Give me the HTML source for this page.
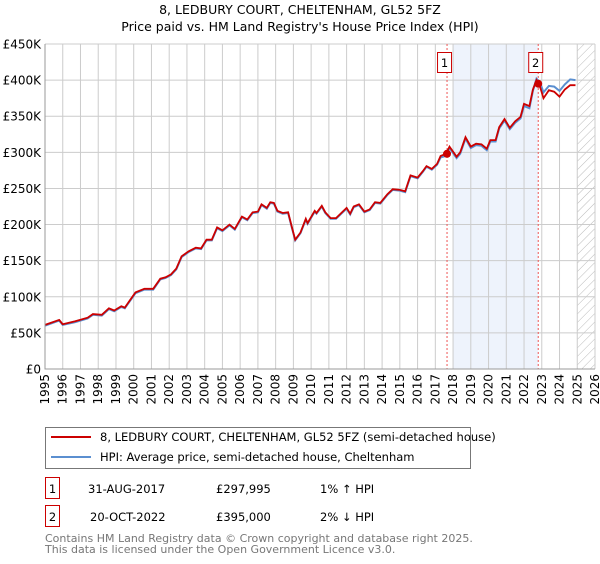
<!DOCTYPE html>
<html><head><meta charset="utf-8"><style>
body{margin:0;background:#fff;font-family:"DejaVu Sans","Liberation Sans",sans-serif;}
svg text{font-family:"DejaVu Sans","Liberation Sans",sans-serif;}
</style></head><body>
<svg id="chart" width="600" height="560" xmlns="http://www.w3.org/2000/svg">
<defs><pattern id="hatch" width="6" height="6" patternUnits="userSpaceOnUse" patternTransform="rotate(45)"><line x1="0" y1="0" x2="0" y2="6" stroke="#bbb" stroke-width="1"/></pattern></defs>
<text x="300" y="14" text-anchor="middle" font-size="12.5">8, LEDBURY COURT, CHELTENHAM, GL52 5FZ</text>
<text x="300" y="31" text-anchor="middle" font-size="12.5">Price paid vs. HM Land Registry's House Price Index (HPI)</text>
<g id="grid"></g><g id="marks"></g><g id="axes"></g>
<g>
<rect x="45.5" y="427.5" width="425" height="41" fill="#fff" stroke="#777"/>
<line x1="51" y1="437" x2="91" y2="437" stroke="#cc0000" stroke-width="2"/>
<text x="100" y="441" font-size="11.5">8, LEDBURY COURT, CHELTENHAM, GL52 5FZ (semi-detached house)</text>
<line x1="51" y1="457" x2="91" y2="457" stroke="#5b8fd0" stroke-width="2"/>
<text x="100" y="461" font-size="11.5">HPI: Average price, semi-detached house, Cheltenham</text>
</g>
<g font-size="11.5">
<rect x="45.5" y="477.5" width="14" height="21" fill="#fff" stroke="#cc0000"/><text x="52.5" y="493" text-anchor="middle">1</text>
<text x="88" y="493">31-AUG-2017</text><text x="216" y="493">£297,995</text><text x="320" y="493">1% ↑ HPI</text>
<rect x="45.5" y="505.5" width="14" height="21" fill="#fff" stroke="#cc0000"/><text x="52.5" y="521" text-anchor="middle">2</text>
<text x="90" y="521">20-OCT-2022</text><text x="216" y="521">£395,000</text><text x="320" y="521">2% ↓ HPI</text>
</g>
<text x="45" y="542" font-size="11" fill="#777">Contains HM Land Registry data © Crown copyright and database right 2025.</text>
<text x="45" y="553" font-size="11" fill="#777">This data is licensed under the Open Government Licence v3.0.</text>
</svg>
<script>
const years=[1995.0,1995.8,1996.0,1996.7,1997.4,1997.7,1998.2,1998.6,1998.9,1999.3,1999.5,2000.1,2000.6,2001.1,2001.5,2001.8,2002.1,2002.4,2002.7,2003.1,2003.5,2003.8,2004.1,2004.4,2004.7,2005.0,2005.4,2005.7,2006.1,2006.4,2006.7,2007.0,2007.2,2007.5,2007.7,2007.9,2008.1,2008.4,2008.7,2008.9,2009.1,2009.4,2009.7,2009.8,2010.2,2010.3,2010.6,2010.8,2011.1,2011.4,2011.7,2012.0,2012.2,2012.4,2012.7,2013.0,2013.3,2013.6,2013.9,2014.3,2014.6,2015.0,2015.3,2015.6,2016.0,2016.3,2016.5,2016.8,2017.1,2017.3,2017.6,2017.8,2018.2,2018.4,2018.7,2019.0,2019.3,2019.6,2019.9,2020.1,2020.4,2020.6,2020.9,2021.2,2021.5,2021.8,2022.0,2022.3,2022.5,2022.7,2022.9,2023.1,2023.4,2023.7,2024.0,2024.3,2024.6,2024.9];
const pricePaid=[61,68,62,66,71,76,75,84,81,87,85,106,111,111,125,127,131,139,156,163,168,167,179,179,196,192,200,194,211,207,217,218,228,223,231,230,219,216,217,198,179,189,208,202,219,216,226,217,209,209,216,223,215,225,228,218,221,231,230,242,249,248,246,268,265,274,281,277,284,295,298,308,294,300,321,308,312,311,305,317,317,335,346,334,343,349,367,364,387,400,391,375,386,384,377,387,393,393];
const hpi=[60,67,61,65,70,75,74,83,80,86,84,105,110,110,124,126,130,138,155,162,167,166,178,178,195,191,199,193,210,206,216,217,227,222,230,229,218,215,216,197,178,188,207,201,218,215,225,216,208,208,215,222,214,224,227,217,220,230,229,241,248,247,245,267,264,273,280,276,283,293,295,306,292,298,319,306,310,309,303,315,315,333,344,332,341,347,364,361,385,402,397,383,392,391,385,394,401,400];
const sales=[{t:2017.66,v:297.995,label:"1"},{t:2022.8,v:395,label:"2"}];
const yTicks=[0,50,100,150,200,250,300,350,400,450];
const xTicks=[1995,1996,1997,1998,1999,2000,2001,2002,2003,2004,2005,2006,2007,2008,2009,2010,2011,2012,2013,2014,2015,2016,2017,2018,2019,2020,2021,2022,2023,2024,2025,2026];
const X0=45,X1=595,Y0=369,Y1=44;
const xs=t=>X0+(t-1995)/(2026-1995)*(X1-X0);
const ys=v=>Y0-v/450*(Y0-Y1);
const NS="http://www.w3.org/2000/svg";
function mk(tag,attrs,parent){const e=document.createElementNS(NS,tag);for(const k in attrs)e.setAttribute(k,attrs[k]);parent.appendChild(e);return e;}
const grid=document.getElementById('grid'),marks=document.getElementById('marks'),axes=document.getElementById('axes');
let r=mk('rect',{x:xs(2017.97),y:Y1,width:xs(2022.8)-xs(2017.97),height:Y0-Y1,fill:'#eef3fc'},grid);


let h=mk('rect',{x:xs(2025.0),y:Y1,width:X1-xs(2025.0),height:Y0-Y1,fill:'url(#hatch)'},grid);


yTicks.forEach(v=>{
 const l=mk('line',{x1:X0,x2:X1,y1:ys(v),y2:ys(v),stroke:'#ccc'},grid);
 
 
 const t=mk('text',{x:X0-4,y:ys(v)+4.5,'text-anchor':'end','font-size':'12'},axes);
 
 
 t.textContent=v===0?'£0':'£'+v+'K';
});
xTicks.forEach(y=>{
 const l=mk('line',{x1:xs(y),x2:xs(y),y1:Y1,y2:Y0,stroke:'#ccc'},grid);
 
 
 const t=mk('text',{x:0,y:0,'text-anchor':'end','font-size':'12',transform:`translate(${xs(y)+4},${Y0+5}) rotate(-90)`},axes);
 
 
 t.textContent=y;
});
sales.forEach(s=>{
 const l=mk('line',{x1:xs(s.t),x2:xs(s.t),y1:Y1,y2:Y0,stroke:'#e55',"stroke-dasharray":'2,2'},grid);
 
 
});
function path(arr){return arr.map((v,i)=>(i?'L':'M')+xs(years[i]).toFixed(1)+','+ys(v).toFixed(1)).join('');}
const hp=mk('path',{d:path(hpi),fill:'none',stroke:'#5b8fd0','stroke-width':2},marks);


const pp=mk('path',{d:path(pricePaid),fill:'none',stroke:'#cc0000','stroke-width':1.8},marks);


sales.forEach(s=>{
 const c=mk('circle',{cx:xs(s.t),cy:ys(s.v),r:4,fill:'#cc0000'},marks);
 
 
 const b=mk('rect',{x:xs(s.t)-9.5,y:52.5,width:14,height:20,fill:'#fff',stroke:'#cc0000'},marks);
 
 
 const t=mk('text',{x:xs(s.t)-2.5,y:67,'text-anchor':'middle','font-size':'11.5'},marks);
 
 
 t.textContent=s.label;
});
const ax=mk('path',{d:`M${X0},${Y1}V${Y0}H${X1}`,fill:'none',stroke:'#999'},axes);


</script>
</body></html>
